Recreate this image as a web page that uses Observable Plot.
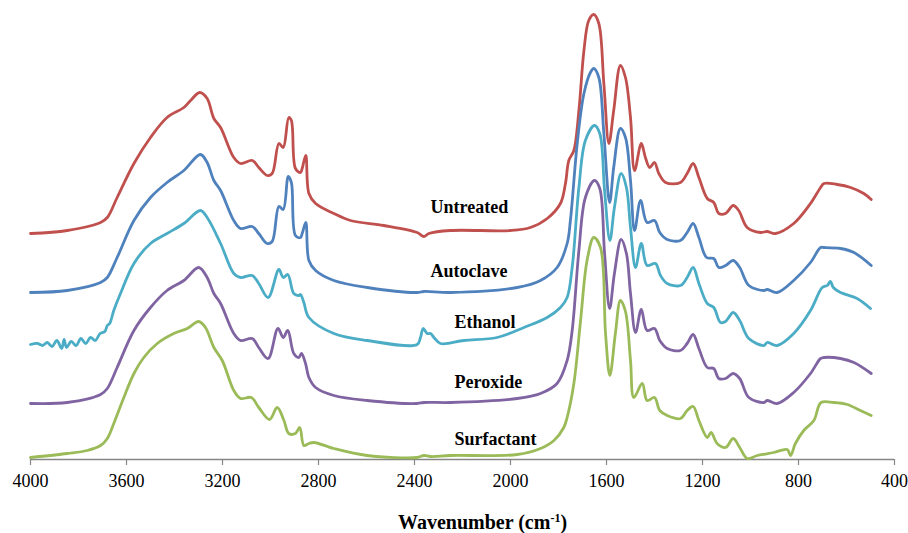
<!DOCTYPE html>
<html>
<head>
<meta charset="utf-8">
<script src="https://cdn.jsdelivr.net/npm/d3@7"></script>
<script src="https://cdn.jsdelivr.net/npm/@observablehq/plot@0.6"></script>
<style>
  html, body { margin: 0; padding: 0; background: #fff; }
  #wrap { position: relative; width: 908px; height: 533px; overflow: hidden; }
  #title { position: absolute; left: 398px; top: 512px; font: bold 20px "Liberation Serif", serif; line-height: 20px; color: #000; white-space: nowrap; }
  #title sup { font-size: 0.6em; line-height: 0; vertical-align: 0.55em; }
</style>
</head>
<body>
<div id="wrap">
  <div id="chart"></div>
  <div id="title">Wavenumber (cm<sup>-1</sup>)</div>
</div>
<script>
// Series names and colours
const seriesNames = ["Untreated", "Autoclave", "Ethanol", "Peroxide", "Surfactant"];
const seriesColors = ["#C0504D", "#4F81BD", "#4BACC6", "#8064A2", "#9BBB59"];

// X tick values (wavenumber, cm-1)
const xTicks = [4000, 3600, 3200, 2800, 2400, 2000, 1600, 1200, 800, 400];

// Offset absorbance (a.u.)
const untreatedWn = [4000,3847,3708,3680,3639,3569,3500,3431,3361,3333,3295,3264,3236,3208,3153,3125,3076,3049,3014,2993,2965,2947,2924,2913,2896,2875,2868,2853,2840,2812,2736,2667,2528,2389,2361,2340,2250,2000,1917,1847,1792,1771,1757,1736,1715,1694,1674,1653,1632,1611,1590,1570,1542,1521,1500,1483,1455,1438,1420,1400,1382,1354,1292,1264,1239,1215,1180,1153,1132,1104,1072,1049,1014,958,931,896,820,750,708,694,639,583,528,497];
const untreatedA  = [226,229,237,242,262,296,322,342,352,359,367,361,341,332,302,296,299,292,284,286,316,312,342,339,291,287,291,304,266,256,246,239,234,227,223,226,229,229,232,241,256,276,299,309,349,409,439,445,436,376,316,349,394,382,342,289,316,302,292,297,286,277,277,286,296,282,261,257,246,246,254,249,232,227,228,226,236,256,272,276,275,272,266,260];

const autoclaveWn = [4000,3847,3708,3680,3639,3569,3500,3431,3361,3292,3264,3236,3208,3153,3125,3076,3049,3014,2993,2965,2947,2926,2913,2896,2875,2868,2853,2840,2812,2736,2597,2389,2361,2250,1972,1875,1806,1764,1750,1722,1694,1667,1653,1632,1611,1587,1570,1542,1521,1500,1483,1458,1431,1400,1378,1347,1292,1264,1239,1215,1183,1153,1132,1104,1072,1045,1007,944,931,889,820,750,708,694,625,569,497];
const autoclaveA  = [167,169,177,182,202,239,262,277,289,305,297,279,269,239,231,233,226,216,218,253,250,283,277,224,222,226,237,199,189,179,172,167,168,167,172,179,192,216,240,316,366,387,391,382,326,257,292,331,322,279,229,259,237,239,227,220,219,227,236,222,202,201,192,194,199,192,174,169,170,167,179,197,212,212,211,207,194];

const ethanolWn = [4000,3970,3950,3930,3910,3890,3870,3860,3850,3830,3810,3790,3770,3750,3730,3710,3690,3680,3670,3653,3625,3569,3500,3431,3361,3292,3264,3208,3153,3125,3076,3049,3010,2965,2947,2928,2903,2882,2875,2861,2840,2736,2597,2389,2375,2364,2347,2333,2319,2292,2194,2056,1944,1847,1792,1764,1743,1715,1688,1650,1628,1608,1586,1567,1539,1517,1500,1479,1455,1431,1396,1375,1347,1292,1264,1239,1215,1180,1153,1125,1104,1072,1045,1007,944,931,889,820,750,701,680,667,655,625,556,500];
const ethanolA  = [115,116,114,117,113,119,111,120,112,118,114,121,116,122,119,126,128,134,136,149,166,196,216,226,236,249,242,216,186,182,184,176,162,190,182,185,166,164,165,157,142,126,119,115,122,131,126,126,122,116,119,122,132,142,152,162,192,272,319,334,326,269,219,252,286,272,232,192,216,194,196,184,176,174,182,192,176,156,152,137,138,147,139,121,114,117,114,126,149,172,174,178,172,167,161,151];

const peroxideWn = [4000,3847,3708,3680,3639,3569,3500,3431,3361,3299,3264,3236,3208,3153,3125,3076,3049,3010,2969,2947,2928,2903,2882,2871,2854,2840,2812,2736,2597,2389,2361,2250,1972,1875,1806,1764,1743,1715,1688,1650,1628,1608,1587,1567,1539,1517,1500,1479,1455,1431,1400,1378,1347,1292,1264,1239,1215,1180,1153,1132,1104,1072,1045,1007,944,931,889,820,750,708,694,625,569,497];
const peroxideA  = [56,57,65,71,92,129,152,169,179,192,182,166,156,126,119,121,112,101,131,122,129,106,102,106,96,82,72,64,59,56,57,57,61,66,76,99,129,209,262,279,271,206,151,186,220,206,166,127,150,129,131,119,111,109,116,125,111,92,91,81,81,86,81,62,57,59,56,67,86,101,102,101,97,86];

const surfactantWn = [4000,3847,3764,3708,3680,3653,3611,3569,3528,3472,3403,3347,3299,3271,3236,3201,3153,3125,3080,3049,3004,2972,2944,2924,2896,2878,2861,2840,2819,2736,2597,2389,2361,2333,2250,1972,1875,1819,1778,1764,1736,1708,1681,1653,1625,1604,1586,1563,1542,1521,1500,1486,1451,1431,1400,1378,1347,1292,1264,1239,1215,1180,1164,1139,1104,1072,1045,1014,972,903,847,833,813,778,736,706,653,597,542,497];
const surfactantA  = [2,6,9,14,21,36,62,86,102,116,126,131,138,132,112,99,69,61,62,52,40,52,39,26,26,32,14,16,17,11,4,2,4,3,4,5,11,19,32,42,76,139,199,222,212,126,84,126,159,148,99,62,76,59,62,49,44,41,49,53,39,22,27,16,12,21,12,1,4,7,10,4,16,29,39,57,57,55,49,44];

// Series label anchors (wavenumber, offset absorbance)
const labelWn = [2333, 2333, 2233, 2233, 2233];
const labelA  = [252, 188, 137, 77, 20];

const seriesWn = [untreatedWn, autoclaveWn, ethanolWn, peroxideWn, surfactantWn];
const seriesA  = [untreatedA, autoclaveA, ethanolA, peroxideA, surfactantA];

const rows = [];
seriesNames.forEach((name, i) => {
  seriesWn[i].forEach((w, j) => rows.push({series: name, wn: w, a: seriesA[i][j]}));
});
const labels = seriesNames.map((name, i) => ({series: name, wn: labelWn[i], a: labelA[i]}));

const chart = Plot.plot({
  width: 908,
  height: 500,
  marginLeft: 30,
  marginRight: 14,
  marginTop: 0,
  marginBottom: 41,
  x: {domain: [4000, 400]},
  y: {domain: [0, 459], axis: null},
  color: {domain: seriesNames, range: seriesColors},
  style: {fontFamily: "'Liberation Serif', serif", background: "white", color: "black"},
  marks: [
    Plot.ruleY([0], {stroke: "#868686", strokeWidth: 1.3}),
    Plot.axisX({ticks: xTicks, tickFormat: d => String(d), tickSize: 6, tickPadding: 9,
                stroke: "#868686", strokeWidth: 1.2, fill: "black", fontSize: 18, label: null}),
    Plot.line(rows, {x: "wn", y: "a", z: "series", stroke: "series", strokeWidth: 2.8, curve: "catmull-rom"}),
    Plot.text(labels, {x: "wn", y: "a", text: "series", textAnchor: "start", lineAnchor: "middle",
                       fontWeight: "bold", fontSize: 18, fill: "black"})
  ]
});
document.getElementById("chart").appendChild(chart);
</script>
</body>
</html>
